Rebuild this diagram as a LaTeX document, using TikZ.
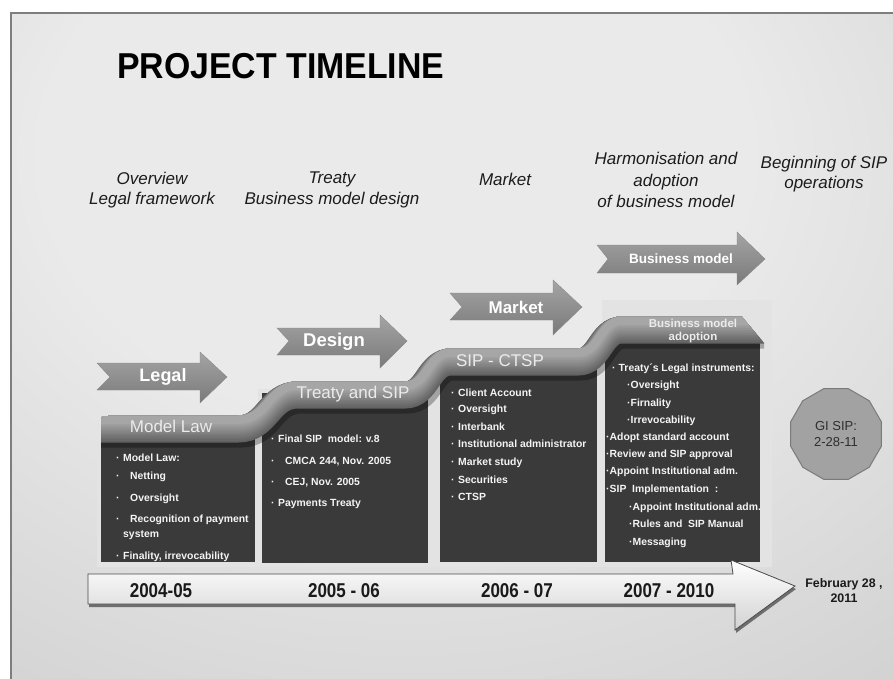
\documentclass[tikz,border=0pt]{standalone}
\usepackage{fontspec}
\setmainfont{Liberation Sans}
\usetikzlibrary{shapes.geometric}

\definecolor{bgin}{HTML}{EAEAEA}
\definecolor{bgmid}{HTML}{C8C8C8}
\definecolor{bgout}{HTML}{B6B6B6}
\definecolor{frameline}{HTML}{7E7E7E}
\definecolor{panel}{HTML}{E3E3E3}
\definecolor{boxfill}{HTML}{3A3A3A}
\definecolor{itemtext}{HTML}{F4F4F4}
\definecolor{bandlow}{HTML}{626262}
\definecolor{bandhigh}{HTML}{A6A6A6}
\definecolor{chevtop}{HTML}{A4A4A4}
\definecolor{chevbot}{HTML}{7A7A7A}
\definecolor{chevedge}{HTML}{8A8A8A}
\definecolor{hdrtext}{HTML}{1C1C1C}
\definecolor{yeartext}{HTML}{1A1A1A}
\definecolor{arrowedge}{HTML}{4A4A4A}
\definecolor{arrowlow}{HTML}{D2D2D2}
\definecolor{gonfill}{HTML}{A2A2A2}
\definecolor{gonedge}{HTML}{7A7A7A}
\definecolor{gontext}{HTML}{2E2E2E}

% soft light spot on the slide background
\pgfdeclareradialshading{slidebg}{\pgfpoint{-4bp}{18bp}}{color(0bp)=(bgin); color(20bp)=(bgin); color(55bp)=(bgmid); color(80bp)=(bgout); color(100bp)=(bgout)}

% bullet set in a box of given width
\newcommand\itembul[1]{\makebox[#1][l]{·}}

\tikzset{
  hdr/.style={font=\fontsize{17}{20.5}\selectfont\itshape, align=center, text=hdrtext, inner sep=0pt},
  chev/.style={top color=chevtop, bottom color=chevbot, draw=chevedge, line width=0.4pt},
  chevtext/.style={font=\fontsize{#1}{#1}\selectfont\bfseries, text=white, inner sep=0pt},
  bandtext/.style={font=\fontsize{17}{20}\selectfont, text=white!92!black, inner sep=0pt},
  item/.style={anchor=base west, font=\fontsize{10.4}{12}\selectfont\bfseries, text=itemtext, inner sep=0pt},
  darkbox/.style={fill=boxfill},
  yearlabel/.style={font=\fontsize{20}{22}\selectfont\bfseries, text=yeartext, inner sep=0pt},
}

\begin{document}
\begin{tikzpicture}[x=1pt,y=-1pt]
\useasboundingbox (0,0) rectangle (893,679);
\fill[white] (0,0) rectangle (893,679);

% slide surface and its frame
\shade[shading=slidebg] (11,13) rectangle (893,679);
\draw[frameline, line width=1.2pt] (11,679) -- (11,13) -- (893,13);

% title
\node[anchor=base west, inner sep=0pt, font=\fontsize{36}{40}\selectfont\bfseries] (title) at (117,79) {\scalebox{0.94}[1]{PROJECT TIMELINE}};

% phase headings
\node[hdr] (h1) at (152,190) {Overview\\Legal framework};
\node[hdr] (h2) at (332,190) {Treaty\\Business model design};
\node[hdr] (h3) at (505,179) {Market};
\node[hdr, font=\fontsize{17}{21.5}\selectfont\itshape] (h4) at (666,180) {Harmonisation and\\adoption\\of business model};
\node[hdr] (h5) at (824,174) {Beginning of SIP\\operations};

% light stepped panel behind the columns
\fill[panel] (97,567) -- (97,436) -- (258,436) -- (258,389) -- (435,389) -- (435,358) -- (602,358) -- (602,300) -- (772,300) -- (772,567) -- cycle;

% dark column boxes
\fill[darkbox] (101,438) rectangle (255,562);
\fill[darkbox] (262,393) rectangle (428,563);
\fill[darkbox] (440,365) rectangle (597,562);
\fill[darkbox] (605,338) rectangle (760,562);

% rising ribbon across the columns, shaded from its lower edge upwards
\begin{scope}
  \clip (101,470) -- (101,423) .. controls (101,416) .. (108,416) -- (108,280) -- (742,280) -- (742,317) -- (764,343) -- (764,470) -- cycle;
  \draw[black, opacity=0.28, line width=27pt, xshift=3pt, yshift=-5pt]
    (95,429) -- (238,429) .. controls (268,429) and (268,395) .. (298,395) -- (405,395) .. controls (428,395) and (428,362) .. (451,362) -- (578,362) .. controls (600,362) and (600,330) .. (622,330) -- (770,330);
  \foreach \k in {0,...,11}{
    \pgfmathsetmacro\dy{\k*0.85}
    \pgfmathsetmacro\w{27-2*\dy}
    \pgfmathtruncatemacro\pct{\k*100/11}
    \draw[bandhigh!\pct!bandlow, line width=\w pt, yshift=\dy pt]
      (95,429) -- (238,429) .. controls (268,429) and (268,395) .. (298,395) -- (405,395) .. controls (428,395) and (428,362) .. (451,362) -- (578,362) .. controls (600,362) and (600,330) .. (622,330) -- (770,330);
  }
\end{scope}

% ribbon labels
\node[bandtext] (r1) at (171,426) {Model Law};
\node[bandtext] (r2) at (353,394) {Treaty and SIP};
\node[bandtext] (r3) at (500,361) {SIP - CTSP};
\node[bandtext, font=\fontsize{11.5}{13.5}\selectfont\bfseries, align=center] (r4) at (693,331) {Business model\\adoption};

% column 1 items
\node[item] (c1a) at (116,461) {\itembul{7pt}Model Law:};
\node[item] (c1b) at (116,479) {\itembul{14pt}Netting};
\node[item] (c1c) at (116,501) {\itembul{14pt}Oversight};
\node[item] (c1d) at (116,522) {\itembul{14pt}Recognition of payment};
\node[item] (c1e) at (123,537) {system};
\node[item] (c1f) at (116,559) {\itembul{7pt}Finality, irrevocability};

% column 2 items
\node[item] (c2a) at (271,442) {\itembul{7pt}Final SIP\ \ model: v.8};
\node[item] (c2b) at (271,464) {\itembul{14pt}CMCA 244, Nov. 2005};
\node[item] (c2c) at (271,485) {\itembul{14pt}CEJ, Nov. 2005};
\node[item] (c2d) at (271,506) {\itembul{7pt}Payments Treaty};

% column 3 items
\foreach \t/\y [count=\i] in {Client Account/396, Oversight/412, Interbank/430, Institutional administrator/447, Market study/465, Securities/483, CTSP/500}{
  \node[item] (c3\i) at (451,\y) {\itembul{7pt}\t};
}

% column 4 items
\node[item] (c4a) at (612,371) {\itembul{6.5pt}Treaty´s Legal instruments:};
\node[item] (c4b) at (627,388) {·Oversight};
\node[item] (c4c) at (627,406) {·Firnality};
\node[item] (c4d) at (627,423) {·Irrevocability};
\node[item] (c4e) at (606,440) {·Adopt standard account};
\node[item] (c4f) at (606,457) {·Review and SIP approval};
\node[item] (c4g) at (606,474) {·Appoint Institutional adm.};
\node[item] (c4h) at (606,492) {·SIP\ \ Implementation\ \ :};
\node[item] (c4i) at (629,510) {·Appoint Institutional adm.};
\node[item] (c4j) at (629,527) {·Rules and\ \ SIP Manual};
\node[item] (c4k) at (629,545) {·Messaging};

% chevron phase markers
\draw[chev] (97,363) -- (200,363) -- (200,352) -- (227,377) -- (200,403) -- (200,390) -- (97,390) -- (110,377) -- cycle;
\draw[chev] (277,328) -- (380,328) -- (380,315) -- (407,341) -- (380,368) -- (380,355) -- (277,355) -- (289,341) -- cycle;
\draw[chev] (450,293) -- (553,293) -- (553,280) -- (582,307) -- (553,335) -- (553,320) -- (450,320) -- (462,307) -- cycle;
\draw[chev] (597,245) -- (737,245) -- (737,232) -- (765,259) -- (737,285) -- (737,273) -- (597,273) -- (608,259) -- cycle;
\node[chevtext=18] (k1) at (163,377) {Legal};
\node[chevtext=18.5] (k2) at (334,342) {Design};
\node[chevtext=17] (k3) at (516,307) {Market};
\node[chevtext=13.5] (k4) at (681,259) {Business model};

% time axis arrow
\fill[arrowedge!80!white, xshift=1pt, yshift=-3pt] (88,574) -- (733,574) -- (731,560) -- (795,586) -- (735,630) -- (735,604) -- (88,604) -- cycle;
\draw[arrowedge, line width=0.8pt, top color=white, bottom color=arrowlow] (88,574) -- (733,574) -- (731,560) -- (795,586) -- (735,630) -- (735,604) -- (88,604) -- cycle;

\node[yearlabel] (y1) at (161,591) {\scalebox{0.85}[1]{2004-05}};
\node[yearlabel] (y2) at (344,591) {\scalebox{0.85}[1]{2005 - 06}};
\node[yearlabel] (y3) at (517,591) {\scalebox{0.85}[1]{2006 - 07}};
\node[yearlabel] (y4) at (669,591) {\scalebox{0.85}[1]{2007 - 2010}};
\node[font=\fontsize{12.4}{15}\selectfont\bfseries, align=center, text=yeartext, inner sep=0pt] (feb) at (844,591) {February 28 ,\\2011};

% go-live badge
\node[regular polygon, regular polygon sides=12, minimum size=94pt, inner sep=0pt, fill=gonfill, draw=gonedge, line width=1pt, text=gontext, align=center, font=\fontsize{13}{15.5}\selectfont] (golive) at (836,434) {GI SIP:\\2-28-11};

\end{tikzpicture}
\end{document}
